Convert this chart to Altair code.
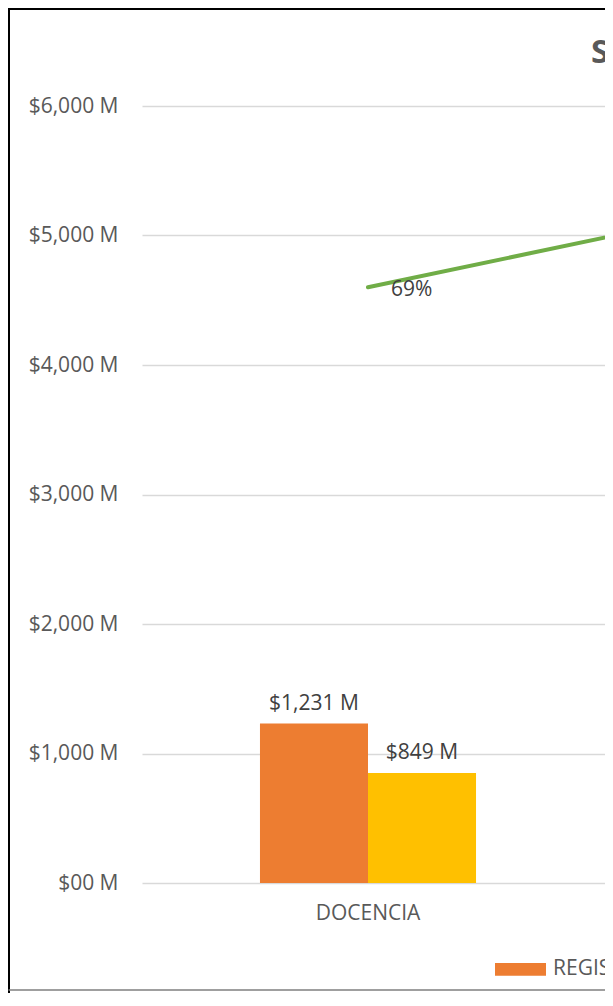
import altair as alt
import pandas as pd

# ---- data ----
categories = ["DOCENCIA"]
registro = [1231]
pagos = [849]
line_categories = ["DOCENCIA", "INVESTIGACIÓN"]
pct = [0.69, 0.80]
series = ["REGISTRO PRESUPUESTAL", "PAGOS"]
colors = ["#ED7D31", "#FFC000"]
y_ticks = [0, 1000, 2000, 3000, 4000, 5000, 6000]
title_text = "SEGUIMIENTO PRESUPUESTAL"

bars_df = pd.DataFrame({
    "cat": categories * 2,
    "serie": [series[0]] * len(categories) + [series[1]] * len(categories),
    "valor": registro + pagos,
})
line_df = pd.DataFrame({"cat": line_categories, "pct": pct})

W, H = 463, 777
FONT = "Open Sans"
AXIS_GRAY = "#595959"
LABEL_GRAY = "#404040"

x_scale = alt.Scale(domain=line_categories, range=[0, 904],
                    paddingInner=0.522, paddingOuter=0.261)
x_enc = alt.X("cat:N", scale=x_scale, sort=line_categories,
              axis=alt.Axis(title=None, labelFont=FONT, labelFontSize=21,
                            labelColor=AXIS_GRAY, labelPadding=19,
                            domain=False, ticks=False, grid=False, labelAngle=0))
xoff = alt.XOffset("serie:N", sort=series,
                   scale=alt.Scale(domain=series, paddingInner=0, paddingOuter=0))
y_enc = alt.Y("valor:Q", scale=alt.Scale(domain=[0, 6000]),
              axis=alt.Axis(values=y_ticks, title=None, labelFont=FONT,
                            labelFontSize=21, labelColor=AXIS_GRAY,
                            labelPadding=24, domain=False, ticks=False,
                            gridColor="#D9D9D9", gridWidth=1.5,
                            labelExpr="datum.value == 0 ? '$00 M' : '$' + format(datum.value, ',') + ' M'"))

bars = alt.Chart(bars_df).mark_bar(clip=True).encode(
    x=x_enc,
    xOffset=xoff,
    y=y_enc,
    color=alt.Color("serie:N", sort=series,
                    scale=alt.Scale(domain=series, range=colors),
                    legend=alt.Legend(title=None, orient="none", legendX=353,
                                      legendY=837.5, direction="horizontal",
                                      symbolType="M-1,-0.25H1V0.25H-1Z",
                                      symbolSize=2601, symbolStrokeWidth=0,
                                      labelFont=FONT, labelFontSize=21,
                                      labelColor=AXIS_GRAY, labelOffset=7,
                                      labelLimit=0, padding=0, columnPadding=20)),
)

bar_labels = alt.Chart(bars_df).transform_calculate(
    label="'$' + format(datum.valor, ',') + ' M'"
).mark_text(dy=-20, fontSize=21, font=FONT, color=LABEL_GRAY, clip=True).encode(
    x=x_enc,
    xOffset=xoff,
    y=y_enc,
    text="label:N",
)

y2_enc = alt.Y("pct:Q", scale=alt.Scale(domain=[0, 0.9]), axis=None)

line = alt.Chart(line_df).mark_line(color="#70AD47", strokeWidth=4,
                                    strokeCap="round", clip=True).encode(
    x=x_enc,
    y=y2_enc,
)
line_labels = alt.Chart(line_df).mark_text(align="left", baseline="middle",
                                           dx=23, dy=3, fontSize=21, font=FONT,
                                           color=LABEL_GRAY, clip=True).encode(
    x=x_enc,
    y=y2_enc,
    text=alt.Text("pct:Q", format=".0%"),
)

one = pd.DataFrame({"t": [title_text]})
frame = alt.Chart(one).mark_rect(fill="transparent", stroke="#000000",
                                 strokeWidth=3).encode(
    x=alt.value(-133.5), x2=alt.value(W + 20),
    y=alt.value(-97.5), y2=alt.value(H + 140),
)
bottom_edge = alt.Chart(one).mark_rule(color="#7F7F7F", strokeWidth=1.5).encode(
    x=alt.value(-133.5), x2=alt.value(W + 20), y=alt.value(H + 107),
)
title = alt.Chart(one).mark_text(align="left", baseline="alphabetic",
                                 fontSize=33, fontWeight="bold", font=FONT,
                                 color=AXIS_GRAY).encode(
    x=alt.value(449), y=alt.value(-43), text="t:N",
)

left_layer = alt.layer(bars, bar_labels)
right_layer = alt.layer(line, line_labels)

chart = alt.layer(left_layer, right_layer, frame, bottom_edge, title).resolve_scale(
    y="independent"
).properties(
    width=W, height=H,
    autosize=alt.AutoSizeParams(type="none"),
    padding={"left": 134, "top": 98, "right": 0, "bottom": 110},
    background="white",
).configure_view(strokeWidth=0)

chart.save("out.html", embed_options={"renderer": "svg", "actions": False})
